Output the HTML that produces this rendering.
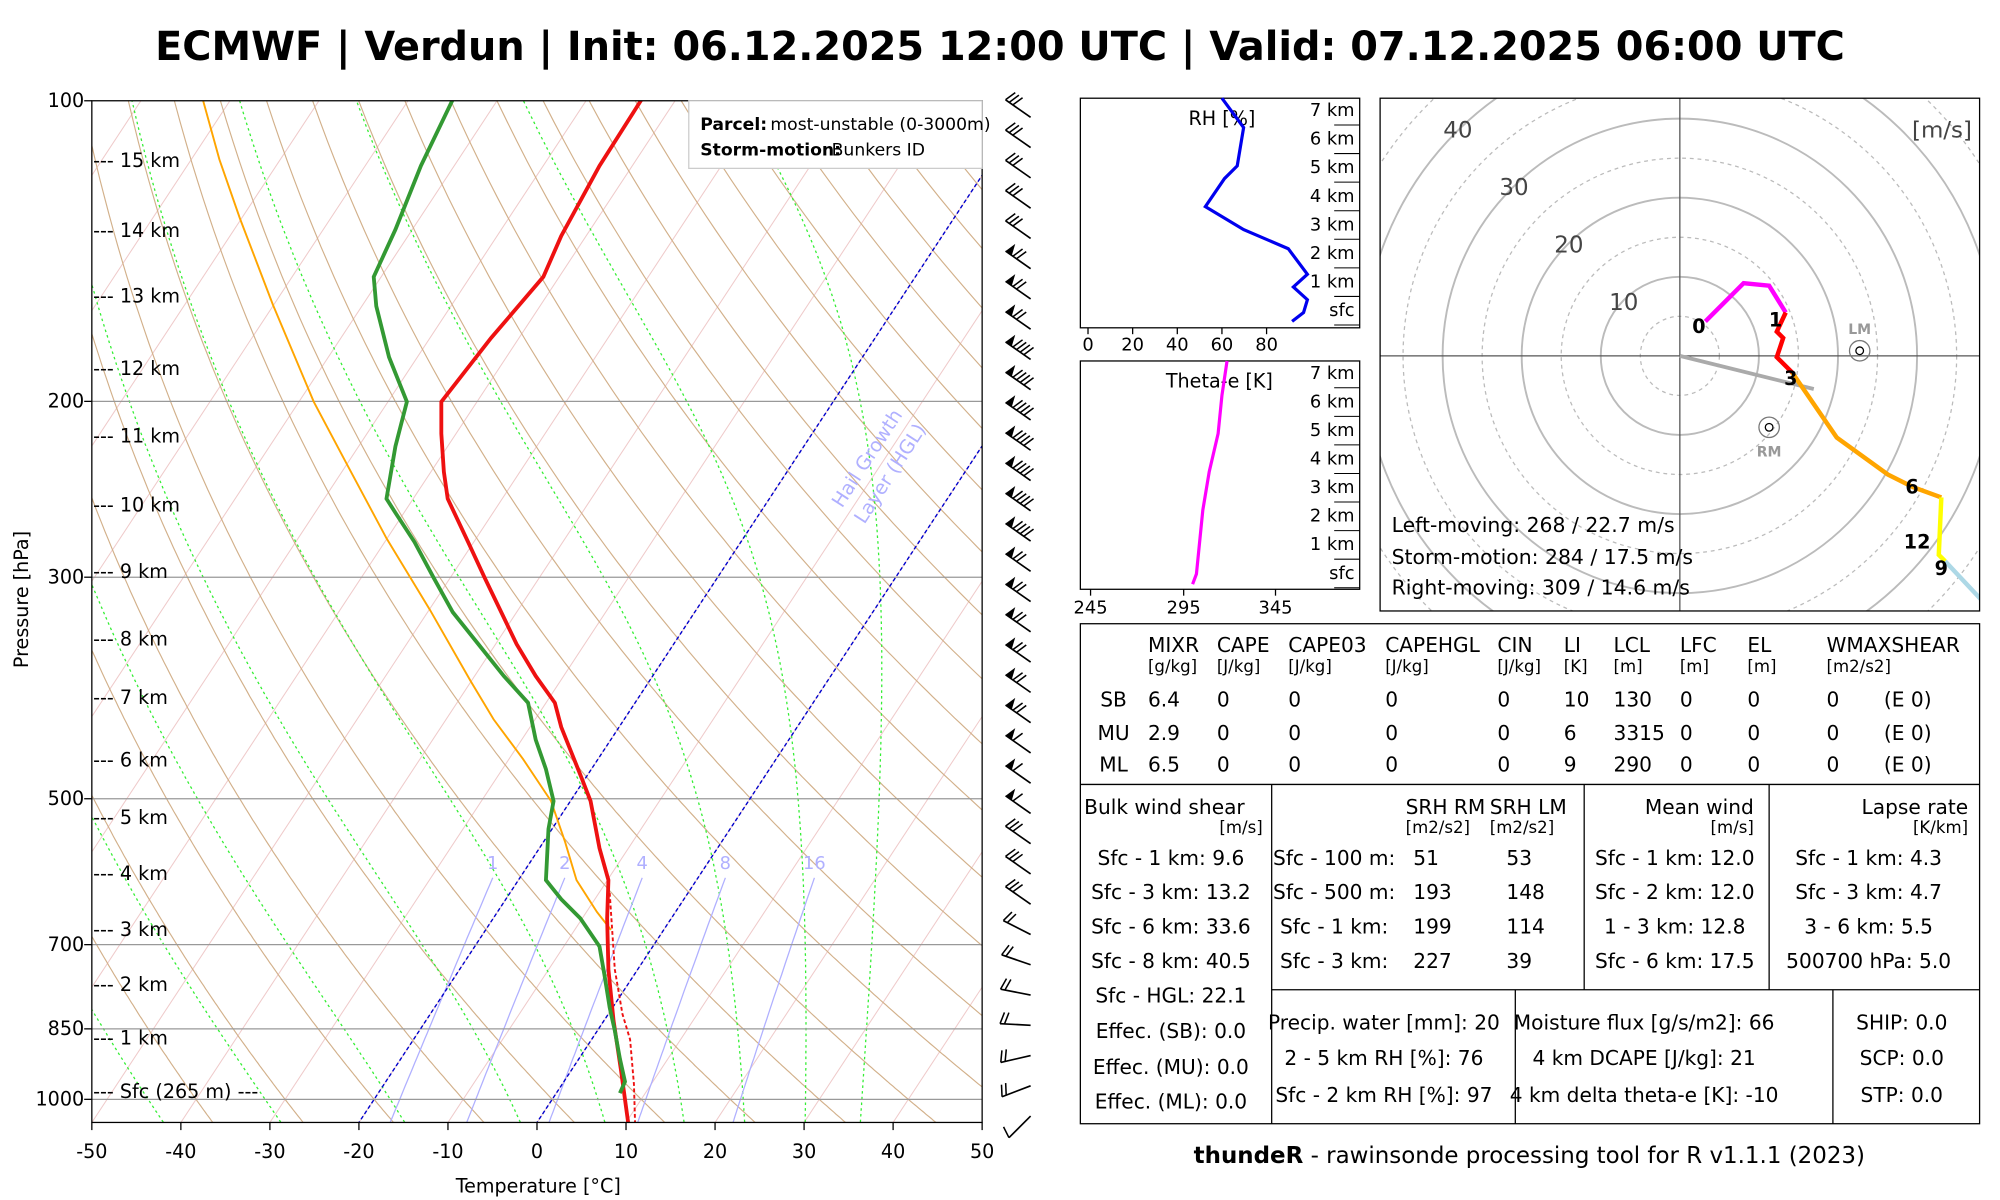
<!DOCTYPE html>
<html><head><meta charset="utf-8"><style>
html,body{margin:0;padding:0;background:#fff;}
svg{display:block;font-family:"DejaVu Sans","Liberation Sans",sans-serif;}
</style></head><body>
<svg id="s" width="2000" height="1200" viewBox="0 0 1568 940.8" xmlns="http://www.w3.org/2000/svg">
<defs><clipPath id="cp"><rect x="72" y="79" width="698" height="801"/></clipPath></defs>
<rect width="1568" height="941" fill="#fff"/>
<text x="784" y="47" text-anchor="middle" font-size="31.2" font-weight="bold">ECMWF | Verdun | Init: 06.12.2025 12:00 UTC | Valid: 07.12.2025 06:00 UTC</text>
<g id="bg" clip-path="url(#cp)"></g>
<g id="fg"></g>
</svg>
<script>
const NS="http://www.w3.org/2000/svg";
const bg=document.getElementById('bg'),fg=document.getElementById('fg');
function el(p,t,a,txt){const e=document.createElementNS(NS,t);for(const k in a)e.setAttribute(k,a[k]);if(txt!==undefined)e.textContent=txt;p.appendChild(e);return e;}
function Y(p){return 79+340*Math.log(p/100);}
function X(T,p){return 72+(T+50)*6.98+(880-Y(p))*0.658;}
function path(pts){return 'M'+pts.map(q=>q[0].toFixed(1)+','+q[1].toFixed(1)).join('L');}
const ps=[];for(let p=1060;p>=95;p-=5)ps.push(p);
for(let T=-160;T<=60;T+=10){el(bg,'path',{d:path([[X(T,1060),Y(1060)],[X(T,95),Y(95)]]),stroke:'#efcaca',fill:'none','stroke-width':0.8});}
for(let th=-40;th<=240;th+=10){const pts=ps.map(p=>[X((th+273.15)*Math.pow(p/1000,0.286)-273.15,p),Y(p)]);el(bg,'path',{d:path(pts),stroke:'#d2b08a',fill:'none','stroke-width':0.9});}
function es(Tc){return 6.112*Math.exp(17.67*Tc/(Tc+243.5));}
function dTdp(T,p){const Tc=T-273.15,e=es(Tc),rs=0.622*e/(p-e);const Lv=2.5e6,Rd=287,cp=1005;return (Rd*T+Lv*rs)/(p*(cp+Lv*Lv*rs*0.622/(Rd*T*T)));}
[-58,-42,-28.8,-14.9,-1.9,7.6,16.5,23.3,30.1,36.3].forEach(T0=>{let T=T0+273.15;const up=[];for(let p=1054;p>=95;p-=2){up.push([X(T-273.15,p),Y(p)]);T-=dTdp(T,p)*2;}
 el(bg,'path',{d:path(up),stroke:'#33ee33',fill:'none','stroke-width':1,'stroke-dasharray':'2,2.5'});});
[1,2,4,8,16].forEach(w=>{const pts=[];for(let p=1060;p>=600;p-=10){const e=w*p/(622+w),l=Math.log(e/6.112);const Td=243.5*l/(17.67-l);pts.push([X(Td,p),Y(p)]);}
 el(bg,'path',{d:path(pts),stroke:'#b0b0ff',fill:'none','stroke-width':1});const l=pts[pts.length-1];el(bg,'text',{x:l[0],y:l[1]-7,'font-size':14,fill:'#b0b0ff','text-anchor':'middle'},w);});
[200,300,500,700,850,1000].forEach(p=>el(bg,'line',{x1:72,x2:770,y1:Y(p),y2:Y(p),stroke:'#999','stroke-width':1}));
[0,-20].forEach(T=>el(bg,'path',{d:path([[X(T,1060),Y(1060)],[X(T,95),Y(95)]]),stroke:'#0000cc',fill:'none','stroke-width':1.1,'stroke-dasharray':'3,2'}));
el(bg,'text',{x:0,y:0,'font-size':15,fill:'#b0b0ff','text-anchor':'middle',transform:'translate(684,362) rotate(-57)'},'Hail Growth');
el(bg,'text',{x:0,y:0,'font-size':15,fill:'#b0b0ff','text-anchor':'middle',transform:'translate(702,374) rotate(-57)'},'Layer (HGL)');
const orange=[[159,78],[172,125],[188,171],[214,239],[246,315],[272,364],[303,422],[337,478],[369,534],[387,564],[410,595],[432,628],[443,660],[452,690],[468,715],[479,729]];
el(bg,'path',{d:path(orange),stroke:'orange',fill:'none','stroke-width':1.5});
const red=[[503,78],[470,130],[440,185],[426,217],[385,265],[346,315],[346,340],[348,370],[351,391],[367,425],[380,453],[393,480],[405,505],[420,530],[435,551],[440,570],[448,590],[456,610],[463,628],[470,665],[477,690],[476,720],[477,760],[481,800],[487,840],[490,862],[493,884]];
el(bg,'path',{d:path(red),stroke:'#ee1111',fill:'none','stroke-width':3});
el(bg,'path',{d:path([[478,700],[482,760],[488,795],[494,815],[497,850],[498,884]]),stroke:'#ee1111',fill:'none','stroke-width':1.5,'stroke-dasharray':'3,2'});
const grn=[[355,78],[330,130],[310,180],[293,217],[295,240],[305,280],[319,315],[310,350],[303,391],[310,402],[325,425],[340,453],[355,480],[375,505],[395,530],[414,551],[420,580],[428,603],[434,628],[430,650],[428,690],[440,705],[455,720],[470,742],[474,765],[478,790],[482,808],[486,830],[490,848],[486,857]];
el(bg,'path',{d:path(grn),stroke:'#339933',fill:'none','stroke-width':3});
el(fg,'rect',{x:72,y:79,width:698,height:801,fill:'none',stroke:'#000','stroke-width':1});
for(let T=-50;T<=50;T+=10){const x=72+(T+50)*6.98;el(fg,'line',{x1:x,x2:x,y1:880,y2:886,stroke:'#000'});el(fg,'text',{x:x,y:908,'font-size':15,'text-anchor':'middle'},T);}
el(fg,'text',{x:422,y:935,'font-size':15,'text-anchor':'middle'},'Temperature [°C]');
[100,200,300,500,700,850,1000].forEach(p=>{el(fg,'line',{x1:66,x2:72,y1:Y(p),y2:Y(p),stroke:'#000'});el(fg,'text',{x:66,y:Y(p)+5,'font-size':15,'text-anchor':'end'},p);});
el(fg,'text',{x:0,y:0,'font-size':15,'text-anchor':'middle',transform:'translate(22,470) rotate(-90)'},'Pressure [hPa]');
[['15 km',126],['14 km',181],['13 km',232],['12 km',289],['11 km',342],['10 km',396],['9 km',448],['8 km',501],['7 km',547],['6 km',596],['5 km',641],['4 km',685],['3 km',729],['2 km',772],['1 km',814]].forEach(a=>el(fg,'text',{x:73,y:a[1]+5,'font-size':15},'--- '+a[0]));
el(fg,'text',{x:73,y:861,'font-size':15},'--- Sfc (265 m) ---');
el(fg,'rect',{x:540,y:79,width:230,height:53,fill:'#fff',stroke:'#ccc'});
el(fg,'text',{x:549,y:102,'font-size':13.5,'font-weight':'bold'},'Parcel:');
el(fg,'text',{x:604,y:102,'font-size':13.5},'most-unstable (0-3000m)');
el(fg,'text',{x:549,y:122,'font-size':13.5,'font-weight':'bold'},'Storm-motion:');
el(fg,'text',{x:652,y:122,'font-size':13.5},'Bunkers ID');
const n=34;
for(let i=0;i<n;i++){const y=84+i*(783/(n-1));let ang;
 if(i<27)ang=-35*Math.PI/180; else if(i<31)ang=(-35+(i-26)*8)*Math.PI/180; else ang=(5+(i-30)*8)*Math.PI/180;
 if(i==n-1)ang=45*Math.PI/180;
 const L=24,bx=808,by=y+8;const ux=-Math.cos(ang),uy=Math.sin(ang);
 const tx=bx+ux*L,ty=by+uy*L;
 el(fg,'line',{x1:bx,y1:by,x2:tx,y2:ty,stroke:'#000','stroke-width':1.3});
 let pv=[uy,-ux]; if(pv[1]>0)pv=[-pv[0],-pv[1]];
 let flags=0,barbs=3;
 if(i>=5&&i<=20){flags=1;barbs=(i>=8&&i<=14)?4:2;} else if(i>20&&i<24){flags=1;barbs=1;}
 if(i>=27){barbs=2;} if(i==n-1){barbs=1;}
 let d=0;
 for(let f=0;f<flags;f++){const a=[tx+(-ux)*d,ty+(-uy)*d],b=[tx+(-ux)*(d+6),ty+(-uy)*(d+6)],c=[a[0]+(-ux)*3+pv[0]*9,a[1]+(-uy)*3+pv[1]*9];
  el(fg,'polygon',{points:[a,c,b].map(q=>q.join(',')).join(' '),fill:'#000'});d+=7;}
 for(let b=0;b<barbs;b++){const a=[tx+(-ux)*d,ty+(-uy)*d];el(fg,'line',{x1:a[0],y1:a[1],x2:a[0]+pv[0]*9-ux*3,y2:a[1]+pv[1]*9-uy*3,stroke:'#000','stroke-width':1.2});d+=3.5;}
}
el(fg,'rect',{x:847,y:77,width:219,height:180,fill:'none',stroke:'#000'});
el(fg,'text',{x:958,y:98,'font-size':15,'text-anchor':'middle'},'RH [%]');
[0,20,40,60,80].forEach(v=>{const x=853+v*1.75;el(fg,'line',{x1:x,x2:x,y1:257,y2:262,stroke:'#000'});el(fg,'text',{x:x,y:275,'font-size':14,'text-anchor':'middle'},v);});
const km=['7 km','6 km','5 km','4 km','3 km','2 km','1 km','sfc'];
km.forEach((k,i)=>{const y=86+i*22.4;el(fg,'text',{x:1062,y:y+5,'font-size':14,'text-anchor':'end'},k);el(fg,'line',{x1:1046,x2:1066,y1:y+12,y2:y+12,stroke:'#000','stroke-width':0.8});});
el(fg,'path',{d:path([[958,77],[975,100],[970,130],[960,140],[945,162],[975,180],[1010,195],[1025,215],[1014,225],[1025,235],[1022,245],[1013,252]]),stroke:'#0000ee',fill:'none','stroke-width':2.5});
el(fg,'rect',{x:847,y:283,width:219,height:179,fill:'none',stroke:'#000'});
el(fg,'text',{x:956,y:304,'font-size':15,'text-anchor':'middle'},'Theta-e [K]');
[[245,855],[295,928],[345,1000]].forEach(a=>{el(fg,'line',{x1:a[1],x2:a[1],y1:462,y2:467,stroke:'#000'});el(fg,'text',{x:a[1],y:481,'font-size':14,'text-anchor':'middle'},a[0]);});
km.forEach((k,i)=>{const y=292+i*22.4;el(fg,'text',{x:1062,y:y+5,'font-size':14,'text-anchor':'end'},k);el(fg,'line',{x1:1046,x2:1066,y1:y+12,y2:y+12,stroke:'#000','stroke-width':0.8});});
el(fg,'path',{d:path([[962,283],[958,310],[955,340],[948,370],[943,400],[940,430],[938,450],[935,458]]),stroke:'#ff00ff',fill:'none','stroke-width':2.5});
const hg=el(fg,'g',{});
el(hg,'clipPath',{id:'hc'});el(document.getElementById('hc'),'rect',{x:1082,y:77,width:470,height:402});
const hh=el(fg,'g',{'clip-path':'url(#hc)'});
const cx=1317,cy=279;
for(let r=5;r<=60;r+=5){el(hh,'circle',{cx:cx,cy:cy,r:r*6.2,fill:'none',stroke:'#bbb','stroke-width':r%10?1:1.5,'stroke-dasharray':r%10?'3,3':'none'});}
el(hh,'line',{x1:1082,x2:1552,y1:cy,y2:cy,stroke:'#555'});el(hh,'line',{x1:cx,x2:cx,y1:77,y2:479,stroke:'#555'});
[[10,1273,243],[20,1230,198],[30,1187,153],[40,1143,108]].forEach(a=>el(hh,'text',{x:a[1],y:a[2],'font-size':18,'fill':'#444','text-anchor':'middle'},a[0]));
el(hh,'text',{x:1546,y:108,'font-size':18,fill:'#444','text-anchor':'end'},'[m/s]');
el(hh,'line',{x1:cx,y1:cy,x2:1422,y2:305,stroke:'#aaa','stroke-width':3});
el(hh,'path',{d:path([[1337,252],[1367,222],[1387,224],[1400,245]]),stroke:'#ff00ff',fill:'none','stroke-width':3.5});
el(hh,'path',{d:path([[1400,245],[1393,260],[1398,265],[1393,280],[1405,292]]),stroke:'#ff0000',fill:'none','stroke-width':3.5});
el(hh,'path',{d:path([[1405,292],[1440,343],[1480,372],[1500,382],[1522,390]]),stroke:'orange',fill:'none','stroke-width':3.5});
el(hh,'path',{d:path([[1522,390],[1520,435],[1525,440]]),stroke:'#ffff00',fill:'none','stroke-width':3.5});
el(hh,'path',{d:path([[1525,440],[1555,472]]),stroke:'#add8e6',fill:'none','stroke-width':3.5});
[[1458,275,'LM',262],[1387,335,'RM',358]].forEach(a=>{el(hh,'circle',{cx:a[0],cy:a[1],r:8,fill:'none',stroke:'#777'});el(hh,'circle',{cx:a[0],cy:a[1],r:3,fill:'none',stroke:'#000'});el(hh,'text',{x:a[0],y:a[3],'font-size':11,fill:'#999','text-anchor':'middle','font-weight':'bold'},a[2]);});
[['0',1332,261],['1',1392,256],['3',1404,302],['6',1499,387],['12',1503,430],['9',1522,451]].forEach(a=>el(hh,'text',{x:a[1],y:a[2],'font-size':15,'font-weight':'bold','text-anchor':'middle'},a[0]));
el(hh,'text',{x:1091,y:417,'font-size':16},'Left-moving: 268 / 22.7 m/s');
el(hh,'text',{x:1091,y:442,'font-size':16},'Storm-motion: 284 / 17.5 m/s');
el(hh,'text',{x:1091,y:466,'font-size':16},'Right-moving: 309 / 14.6 m/s');
el(fg,'rect',{x:1082,y:77,width:470,height:402,fill:'none',stroke:'#000'});
const T=el(fg,'g',{'font-size':15.8});
el(T,'rect',{x:847,y:489,width:705,height:392,fill:'none',stroke:'#000'});
[[847,1552,615,615],[997,1552,776,776]].forEach(a=>el(T,'line',{x1:a[0],x2:a[1],y1:a[2],y2:a[3],stroke:'#000'}));
[[997,615,881],[1242,615,776],[1387,615,776],[1188,776,881],[1437,776,881]].forEach(a=>el(T,'line',{x1:a[0],x2:a[0],y1:a[1],y2:a[2],stroke:'#000'}));
const cols=[900,954,1010,1086,1174,1226,1265,1317,1370,1432];
['MIXR','CAPE','CAPE03','CAPEHGL','CIN','LI','LCL','LFC','EL','WMAXSHEAR'].forEach((t,i)=>el(T,'text',{x:cols[i],y:511},t));
['[g/kg]','[J/kg]','[J/kg]','[J/kg]','[J/kg]','[K]','[m]','[m]','[m]','[m2/s2]'].forEach((t,i)=>el(T,'text',{x:cols[i],y:527,'font-size':13},t));
[['SB',['6.4','0','0','0','0','10','130','0','0','0'],554],['MU',['2.9','0','0','0','0','6','3315','0','0','0'],580],['ML',['6.5','0','0','0','0','9','290','0','0','0'],605]].forEach(r=>{el(T,'text',{x:873,y:r[2],'text-anchor':'middle'},r[0]);r[1].forEach((v,i)=>el(T,'text',{x:cols[i],y:r[2]},v));el(T,'text',{x:1477,y:r[2]},'(E 0)');});
el(T,'text',{x:850,y:638},'Bulk wind shear');el(T,'text',{x:990,y:653,'text-anchor':'end','font-size':13},'[m/s]');
[['Sfc - 1 km: 9.6',678],['Sfc - 3 km: 13.2',705],['Sfc - 6 km: 33.6',732],['Sfc - 8 km: 40.5',759],['Sfc - HGL: 22.1',786],['Effec. (SB): 0.0',814],['Effec. (MU): 0.0',842],['Effec. (ML): 0.0',869]].forEach(a=>el(T,'text',{x:918,y:a[1],'text-anchor':'middle'},a[0]));
el(T,'text',{x:1102,y:638},'SRH RM');el(T,'text',{x:1168,y:638},'SRH LM');
el(T,'text',{x:1102,y:653,'font-size':13},'[m2/s2]');el(T,'text',{x:1168,y:653,'font-size':13},'[m2/s2]');
[['Sfc - 100 m:','51','53',678],['Sfc - 500 m:','193','148',705],['Sfc - 1 km:','199','114',732],['Sfc - 3 km:','227','39',759]].forEach(a=>{el(T,'text',{x:1046,y:a[3],'text-anchor':'middle'},a[0]);el(T,'text',{x:1108,y:a[3]},a[1]);el(T,'text',{x:1181,y:a[3]},a[2]);});
el(T,'text',{x:1375,y:638,'text-anchor':'end'},'Mean wind');el(T,'text',{x:1375,y:653,'text-anchor':'end','font-size':13},'[m/s]');
[['Sfc - 1 km: 12.0',678],['Sfc - 2 km: 12.0',705],['1 - 3 km: 12.8',732],['Sfc - 6 km: 17.5',759]].forEach(a=>el(T,'text',{x:1313,y:a[1],'text-anchor':'middle'},a[0]));
el(T,'text',{x:1543,y:638,'text-anchor':'end'},'Lapse rate');el(T,'text',{x:1543,y:653,'text-anchor':'end','font-size':13},'[K/km]');
[['Sfc - 1 km: 4.3',678],['Sfc - 3 km: 4.7',705],['3 - 6 km: 5.5',732],['500700 hPa: 5.0',759]].forEach(a=>el(T,'text',{x:1465,y:a[1],'text-anchor':'middle'},a[0]));
[['Precip. water [mm]: 20',807],['2 - 5 km RH [%]: 76',835],['Sfc - 2 km RH [%]: 97',864]].forEach(a=>el(T,'text',{x:1085,y:a[1],'text-anchor':'middle'},a[0]));
[['Moisture flux [g/s/m2]: 66',807],['4 km DCAPE [J/kg]: 21',835],['4 km delta theta-e [K]: -10',864]].forEach(a=>el(T,'text',{x:1289,y:a[1],'text-anchor':'middle'},a[0]));
[['SHIP: 0.0',807],['SCP: 0.0',835],['STP: 0.0',864]].forEach(a=>el(T,'text',{x:1491,y:a[1],'text-anchor':'middle'},a[0]));
const ft=el(fg,'text',{x:1199,y:912,'font-size':18,'text-anchor':'middle'});
el(ft,'tspan',{'font-weight':'bold'},'thundeR');el(ft,'tspan',{},' - rawinsonde processing tool for R v1.1.1 (2023)');
</script>
</body></html>
